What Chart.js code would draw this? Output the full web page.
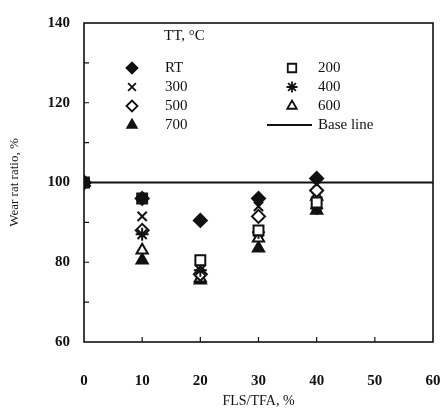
<!DOCTYPE html>
<html>
<head>
<meta charset="utf-8">
<script src="https://cdn.jsdelivr.net/npm/chart.js@4/dist/chart.umd.min.js"></script>
<style>
  html, body { margin: 0; padding: 0; background: #fff; }
  #wrap { width: 444px; height: 420px; }
</style>
</head>
<body>
<div id="wrap"><canvas id="wear"></canvas></div>
<script>
// values
const flsTfa = [0, 10, 20, 30, 40];
const wearRT = [100, 96, 90.5, 96, 101];
const wear200 = [100, 96, 80.5, 88, 95];
const wear300 = [100, 91.5, 79, 94, 94];
const wear400 = [100, 87, 78, 87.5, 93.5];
const wear500 = [100, 88, 77, 91.5, 98];
const wear600 = [100, 83, 76, 86, 96.5];
const wear700 = [100, 80.5, 75.5, 83.5, 93];
const baseX = [0, 60];
const baseY = [100, 100];
const xTicks = [0, 10, 20, 30, 40, 50, 60];
const yTicks = [60, 80, 100, 120, 140];
const yMinor = [70, 90, 110, 130];

const ink = '#111';
const serif = '"Liberation Serif", "DejaVu Serif", serif';

function pts(ys) {
  return flsTfa.map((x, i) => ({ x: x, y: ys[i] }));
}

// marker look per series: [label, data, style, filled]
const series = [
  ['RT', wearRT, 'rectRot', true],
  ['200', wear200, 'rect', false],
  ['300', wear300, 'crossRot', false],
  ['400', wear400, 'star', false],
  ['500', wear500, 'rectRot', false],
  ['600', wear600, 'triangle', false],
  ['700', wear700, 'triangle', true]
];

const datasets = series.map(s => ({
  label: s[0],
  data: pts(s[1]),
  showLine: false,
  pointStyle: s[2],
  pointRadius: s[2] === 'rect' ? 7 : 6.5,
  pointBorderWidth: 2,
  pointBorderColor: ink,
  pointBackgroundColor: s[3] ? ink : '#fff'
}));

datasets.push({
  label: 'Base line',
  data: baseX.map((x, i) => ({ x: x, y: baseY[i] })),
  showLine: true,
  borderColor: ink,
  borderWidth: 2.2,
  pointRadius: 0,
  order: 10
});

// box, inside ticks and the two-column legend
const framePlugin = {
  id: 'frame',
  afterDraw(chart) {
    const ctx = chart.ctx;
    const a = chart.chartArea;
    const xs = chart.scales.x;
    const ys = chart.scales.y;
    ctx.save();
    ctx.strokeStyle = ink;
    ctx.lineWidth = 1.6;
    ctx.strokeRect(a.left, a.top, a.right - a.left, a.bottom - a.top);

    ctx.lineWidth = 1.2;
    ctx.beginPath();
    xTicks.slice(1, -1).forEach(v => {
      const px = xs.getPixelForValue(v);
      ctx.moveTo(px, a.bottom);
      ctx.lineTo(px, a.bottom - 5);
    });
    yTicks.slice(1, -1).concat(yMinor).forEach(v => {
      const py = ys.getPixelForValue(v);
      ctx.moveTo(a.left, py);
      ctx.lineTo(a.left + 5, py);
    });
    ctx.stroke();

    // legend
    ctx.fillStyle = ink;
    ctx.font = '15px ' + serif;
    ctx.textBaseline = 'middle';
    ctx.textAlign = 'left';
    ctx.fillText('TT, \u00B0C', 164, 36);

    const rows = [68, 87, 106, 125];
    series.forEach((s, i) => {
      const col = i % 2;
      const row = Math.floor(i / 2);
      const mx = col === 0 ? 132 : 292;
      const tx = col === 0 ? 165 : 318;
      const y = rows[row];
      ctx.fillStyle = s[3] ? ink : '#fff';
      ctx.strokeStyle = ink;
      ctx.lineWidth = 1.8;
      Chart.helpers.drawPoint(ctx, {
        pointStyle: s[2],
        radius: s[2] === 'rect' ? 6 : 5.5,
        rotation: 0,
        borderWidth: 1.8
      }, mx, y);
      ctx.fillStyle = ink;
      ctx.fillText(s[0], tx, y);
    });
    ctx.lineWidth = 2.2;
    ctx.beginPath();
    ctx.moveTo(267, rows[3]);
    ctx.lineTo(312, rows[3]);
    ctx.stroke();
    ctx.fillText('Base line', 318, rows[3]);
    ctx.restore();
  }
};

new Chart(document.getElementById('wear'), {
  type: 'scatter',
  data: { datasets: datasets },
  options: {
    responsive: true,
    maintainAspectRatio: false,
    animation: false,
    layout: { padding: { top: 18, right: 11, left: 0, bottom: 0 } },
    plugins: {
      legend: { display: false },
      tooltip: { enabled: false }
    },
    scales: {
      x: {
        type: 'linear',
        min: 0,
        max: 60,
        afterFit: s => { s.height = 78; s.paddingLeft = 0; s.paddingRight = 0; },
        afterBuildTicks: s => { s.ticks = xTicks.map(v => ({ value: v })); },
        grid: { display: false, drawTicks: false },
        border: { display: false },
        ticks: {
          color: ink,
          padding: 30,
          maxRotation: 0,
          font: { family: serif, size: 15, weight: 'bold' }
        },
        title: {
          display: true,
          text: 'FLS/TFA, %',
          color: ink,
          padding: { top: 0, bottom: 10 },
          font: { family: serif, size: 14 }
        }
      },
      y: {
        type: 'linear',
        min: 60,
        max: 140,
        afterFit: s => { s.width = 84; },
        afterBuildTicks: s => { s.ticks = yTicks.map(v => ({ value: v })); },
        grid: { display: false, drawTicks: false },
        border: { display: false },
        ticks: {
          color: ink,
          padding: 14,
          font: { family: serif, size: 15, weight: 'bold' }
        },
        title: {
          display: true,
          text: 'Wear rat ratio, %',
          color: ink,
          padding: { top: 7, bottom: 0 },
          font: { family: serif, size: 13 }
        }
      }
    }
  },
  plugins: [framePlugin]
});
</script>
</body>
</html>
